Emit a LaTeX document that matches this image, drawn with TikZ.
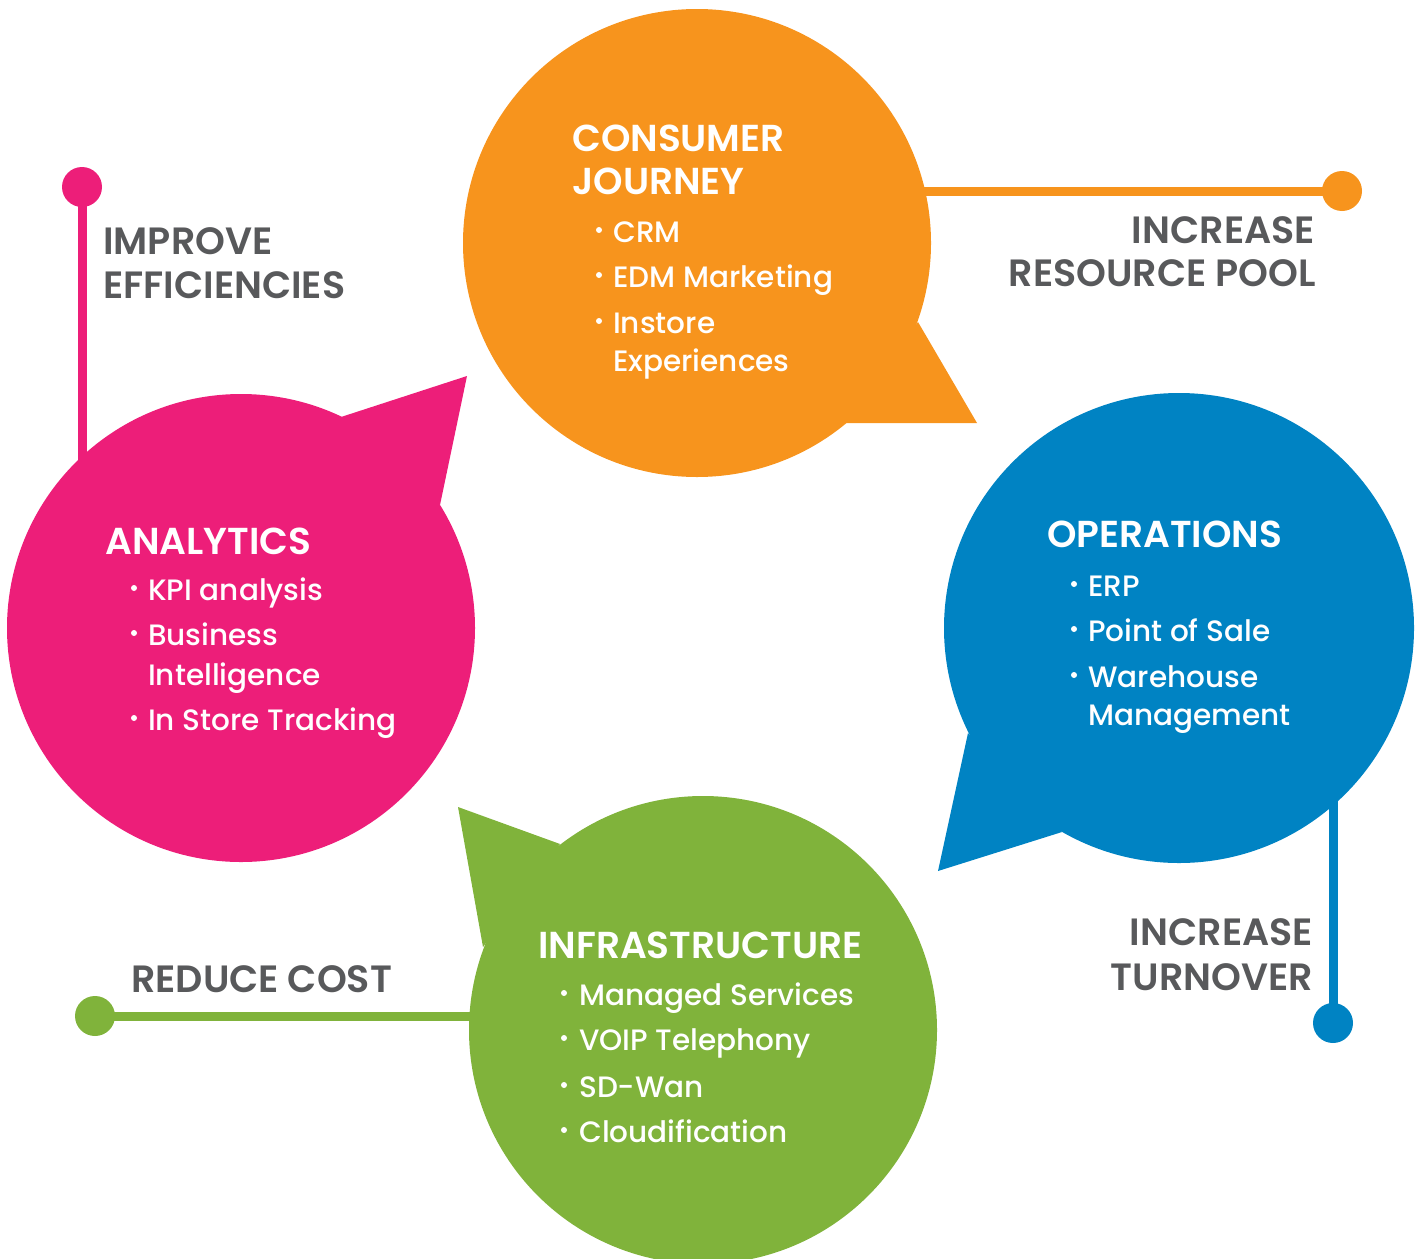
\documentclass[tikz,border=0pt]{standalone}
\usepackage{fontspec}
\setmainfont{Poppins}
\newfontfamily\headfont{Poppins SemiBold}
\newfontfamily\itemfont{Poppins Medium}
\definecolor{corange}{HTML}{F7941D}
\definecolor{cpink}{HTML}{ED1E79}
\definecolor{cblue}{HTML}{0083C3}
\definecolor{cgreen}{HTML}{80B33B}
\definecolor{cgray}{HTML}{58595B}
\tikzset{
  headtxt/.style={anchor=base west, inner sep=0pt, text=white, font=\headfont\fontsize{37.5}{37.5}\selectfont},
  itemtxt/.style={anchor=base west, inner sep=0pt, text=white, font=\itemfont\fontsize{29.5}{29.5}\selectfont},
  bul/.style={circle, fill=white, inner sep=0pt, minimum size=6pt},
  labw/.style={anchor=base west, inner sep=0pt, text=cgray, font=\headfont\fontsize{38}{38}\selectfont},
  labe/.style={anchor=base east, inner sep=0pt, text=cgray, font=\headfont\fontsize{38}{38}\selectfont},
  bubble/.style={circle, inner sep=0pt, minimum size=468pt},
  enddot/.style={circle, inner sep=0pt, minimum size=40pt},
  conn/.style={line width=9pt},
}
\begin{document}
\begin{tikzpicture}[x=1pt,y=-1pt]
\useasboundingbox (0,0) rectangle (1421,1258);
% end dots
\node[enddot, fill=cpink] (dpink) at (82,187) {};
\node[enddot, fill=corange] (dorange) at (1342,191) {};
\node[enddot, fill=cblue] (dblue) at (1333,1023) {};
\node[enddot, fill=cgreen] (dgreen) at (95,1016) {};
% bubble centres
\coordinate (corg) at (697,243);
\coordinate (cpk) at (241,628);
\coordinate (cbl) at (1179,628);
\coordinate (cgr) at (703,1030);
% connectors (behind bubbles)
\draw[conn, cpink] (dpink.center) -- (dpink.center |- cpk);
\draw[conn, corange] (dorange.center) -- (dorange.center -| corg);
\draw[conn, cblue] (dblue.center) -- (dblue.center |- cbl);
\draw[conn, cgreen] (dgreen.center) -- (dgreen.center -| cgr);
% bubbles
\node[bubble, fill=corange] (borange) at (corg) {};
\fill[corange] (918,322) -- (977,423) -- (845,423) -- cycle;
\node[bubble, fill=cpink] (bpink) at (cpk) {};
\fill[cpink] (341,417) -- (467,376) -- (440,505) -- cycle;
\node[bubble, fill=cblue, minimum size=470pt] (bblue) at (cbl) {};
\fill[cblue] (968,733) -- (938,871) -- (1062,832) -- cycle;
\node[bubble, fill=cgreen] (bgreen) at (cgr) {};
\fill[cgreen] (560,844) -- (458,807) -- (483,947) -- cycle;
% consumer journey
\node[headtxt] (t1) at (572,151) {CONSUMER};
\node[headtxt] (t2) at (572,194) {JOURNEY};
\node[bul] (b11) at (599,230) {};
\node[itemtxt] (i11) at (613,242) {CRM};
\node[bul] (b12) at (599,275) {};
\node[itemtxt] (i12) at (613,287) {EDM Marketing};
\node[bul] (b13) at (599,321) {};
\node[itemtxt] (i13) at (613,333) {Instore};
\node[itemtxt] (i14) at (613,371) {Experiences};
% analytics
\node[headtxt] (t3) at (105,554) {ANALYTICS};
\node[bul] (b21) at (134,588) {};
\node[itemtxt] (i21) at (148,600) {KPI analysis};
\node[bul] (b22) at (134,633) {};
\node[itemtxt] (i22) at (148,645) {Business};
\node[itemtxt] (i23) at (148,685) {Intelligence};
\node[bul] (b24) at (134,718) {};
\node[itemtxt] (i24) at (148,730) {In Store Tracking};
% operations
\node[headtxt] (t4) at (1047,547) {OPERATIONS};
\node[bul] (b31) at (1074,584) {};
\node[itemtxt] (i31) at (1088,596) {ERP};
\node[bul] (b32) at (1074,629) {};
\node[itemtxt] (i32) at (1088,641) {Point of Sale};
\node[bul] (b33) at (1074,675) {};
\node[itemtxt] (i33) at (1088,687) {Warehouse};
\node[itemtxt] (i34) at (1088,725) {Management};
% infrastructure
\node[headtxt] (t5) at (538,958) {INFRASTRUCTURE};
\node[bul] (b41) at (564,993) {};
\node[itemtxt] (i41) at (579,1005) {Managed Services};
\node[bul] (b42) at (564,1038) {};
\node[itemtxt] (i42) at (579,1050) {VOIP Telephony};
\node[bul] (b43) at (564,1085) {};
\node[itemtxt] (i43) at (579,1097) {SD-Wan};
\node[bul] (b44) at (564,1130) {};
\node[itemtxt] (i44) at (579,1142) {Cloudification};
% grey labels
\node[labw] (l1) at (103,254) {IMPROVE};
\node[labw] (l2) at (103,298) {EFFICIENCIES};
\node[labe] (l3) at (1315,243) {INCREASE};
\node[labe] (l4) at (1316,286) {RESOURCE POOL};
\node[labe] (l5) at (1313,945) {INCREASE};
\node[labe] (l6) at (1313,990) {TURNOVER};
\node[labw] (l7) at (131,992) {REDUCE COST};
\end{tikzpicture}
\end{document}
